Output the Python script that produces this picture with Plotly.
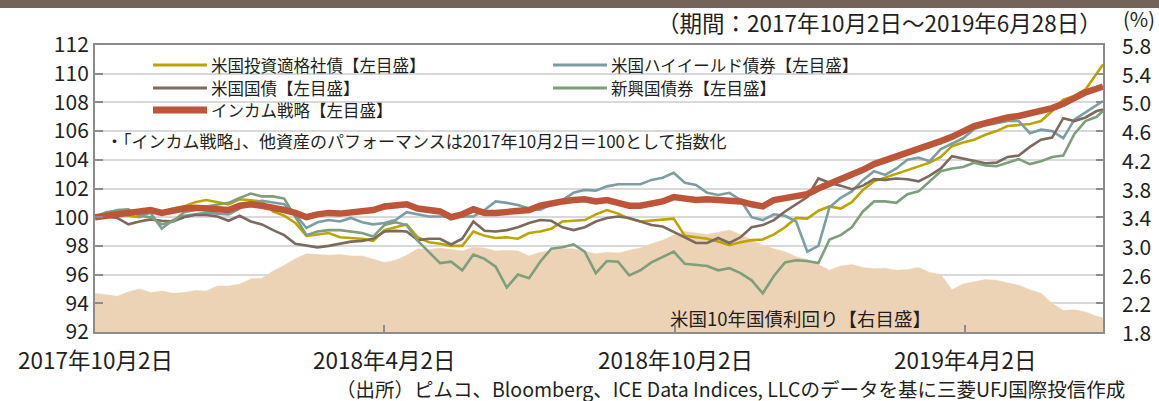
import plotly.graph_objects as go
import pandas as pd

# weekly sample dates (Mondays) plus the final day of the period
dates = list(pd.date_range('2017-10-02', periods=91, freq='7D').strftime('%Y-%m-%d')) + ['2019-06-28']

ig_corp = [100.0,100.2,100.3,100.1,100.0,100.35,100.35,100.6,100.75,101.05,101.2,101.05,100.9,101.25,101.15,101.1,
           100.4,100.1,99.6,98.7,98.8,98.9,98.6,98.55,98.5,98.35,99.1,99.3,99.5,98.6,98.25,98.15,
           98.0,98.0,99.0,98.7,98.55,98.6,98.5,98.9,99.0,99.2,99.7,99.75,99.8,100.2,100.5,100.25,99.9,99.7,
           99.75,99.8,99.9,98.7,98.6,98.5,98.3,98.05,98.25,98.4,98.45,98.8,
           99.3,99.95,99.9,100.45,100.75,100.6,101.05,101.9,102.5,102.75,103.05,103.3,103.5,103.8,104.2,104.95,
           105.2,105.4,105.75,106.0,106.35,106.4,106.5,106.7,107.4,108.2,108.45,108.9,110.0,110.65]
high_yield = [100.0,100.35,100.45,100.4,100.2,100.3,99.2,99.8,100.1,100.2,100.3,100.25,100.2,100.6,101.0,101.15,
              101.05,100.9,100.2,99.25,99.65,99.8,99.7,99.95,99.65,99.5,99.6,99.8,100.35,100.2,100.05,100.05,
              100.05,100.1,100.05,100.5,101.1,101.0,100.85,100.6,100.5,100.9,101.2,101.7,101.9,101.85,102.15,102.3,
              102.3,102.3,102.6,102.75,103.1,102.4,102.25,101.7,101.55,101.7,101.2,100.0,99.8,100.2,
              100.1,99.7,97.6,98.0,100.7,101.35,101.8,102.6,103.2,102.95,103.4,104.0,104.15,103.9,104.75,105.15,
              105.5,106.15,106.4,106.55,106.7,106.7,105.85,106.1,106.0,105.5,106.8,107.3,107.8,108.1]
treasury = [100.0,100.05,99.95,99.5,99.7,99.85,99.75,99.7,100.0,100.15,100.15,100.05,99.75,100.1,99.7,99.5,
            99.1,98.75,98.15,98.0,97.9,98.0,98.15,98.3,98.35,98.5,99.0,99.05,99.0,98.4,98.5,98.5,
            98.1,98.5,99.7,99.05,99.0,99.1,99.3,99.6,99.8,99.75,99.3,99.1,99.3,99.7,99.95,100.05,
            99.95,99.7,99.45,99.35,99.0,98.6,98.2,98.2,98.55,98.2,98.6,99.3,99.45,99.8,
            100.4,100.9,101.4,102.7,102.4,102.2,101.95,102.2,102.65,102.6,102.7,102.65,102.5,102.9,103.4,104.25,
            104.1,103.9,103.75,103.8,104.2,104.3,104.9,105.4,105.55,106.9,106.7,106.95,107.4,107.5]
em_bond = [100.0,100.3,100.5,100.55,100.1,100.0,99.5,99.7,100.35,100.5,100.75,100.9,101.0,101.35,101.65,101.45,
           101.45,101.3,100.0,98.75,99.0,99.1,99.1,99.0,98.9,98.65,99.45,99.65,99.45,98.35,97.6,96.8,
           96.9,96.3,97.4,97.1,96.55,95.1,96.0,95.75,96.9,97.8,97.9,98.1,97.6,96.1,96.95,96.9,
           95.95,96.3,96.85,97.25,97.6,96.75,96.7,96.6,96.3,96.45,96.1,95.6,94.7,95.9,
           96.85,97.0,96.95,96.8,98.45,98.75,99.3,100.4,101.1,101.1,101.0,101.6,101.8,102.5,103.2,103.4,
           103.5,103.8,103.6,103.55,103.8,104.05,103.7,103.9,104.2,104.3,105.8,106.7,107.0,107.4]
income = [100.0,100.1,100.1,100.3,100.4,100.5,100.3,100.5,100.6,100.65,100.6,100.6,100.5,100.8,100.9,100.8,
          100.7,100.5,100.3,100.0,100.2,100.3,100.25,100.35,100.35,100.5,100.75,100.8,100.9,100.6,100.5,100.4,
          100.0,100.2,100.55,100.3,100.3,100.35,100.45,100.5,100.8,101.0,101.1,101.2,101.25,101.1,101.2,101.0,
          100.8,100.8,100.95,101.1,101.4,101.3,101.2,101.25,101.2,101.2,101.1,100.9,100.75,101.2,
          101.35,101.45,101.6,102.0,102.3,102.6,103.0,103.3,103.7,103.95,104.3,104.55,104.75,104.95,105.3,105.6,
          105.95,106.35,106.55,106.8,106.95,107.05,107.2,107.35,107.6,107.9,108.3,108.7,108.95,109.1]
ust10y = [2.34,2.32,2.30,2.36,2.40,2.35,2.37,2.34,2.35,2.38,2.37,2.44,2.44,2.47,2.54,2.55,
          2.65,2.73,2.82,2.89,2.88,2.87,2.88,2.86,2.86,2.82,2.77,2.80,2.87,2.96,2.95,2.97,
          2.95,2.93,2.98,2.97,2.93,2.94,2.93,2.86,2.91,2.93,2.96,2.96,2.93,2.89,2.91,2.90,
          2.94,2.97,3.03,3.08,3.15,3.20,3.18,3.16,3.19,3.22,3.16,3.08,3.01,2.96,
          2.92,2.85,2.81,2.74,2.66,2.72,2.74,2.70,2.68,2.69,2.66,2.67,2.70,2.63,2.60,2.39,
          2.47,2.50,2.53,2.52,2.48,2.45,2.39,2.34,2.20,2.10,2.11,2.08,2.02,2.00]

series_names = ['米国投資適格社債【左目盛】', '米国ハイイールド債券【左目盛】', '米国国債【左目盛】',
                '新興国債券【左目盛】', 'インカム戦略【左目盛】']
yield_label = '米国10年国債利回り【右目盛】'
x_tick_vals = ['2017-10-02', '2018-04-02', '2018-10-02', '2019-04-02']
x_tick_text = ['2017年10月2日', '2018年4月2日', '2018年10月2日', '2019年4月2日']
left_ticks = [92, 94, 96, 98, 100, 102, 104, 106, 108, 110, 112]
right_ticks = [1.8, 2.2, 2.6, 3.0, 3.4, 3.8, 4.2, 4.6, 5.0, 5.4, 5.8]

colors = ['#BDA400', '#7C9EA2', '#7C6A5F', '#7D9F7B', '#BD5539']
widths = [2.6, 2.6, 2.6, 2.6, 6.5]
yield_color = '#EDD3B6'

FONT = 'Noto Sans CJK JP, Noto Sans, sans-serif'
TXT = '#231F20'
AX = '#8C8C8C'

W, H = 1159, 401
L, R, T, B = 95, 1103, 45, 332


def px(x):
    return (x - L) / (R - L)


def py(y):
    return (B - y) / (B - T)


fig = go.Figure()

fig.add_trace(go.Scatter(x=dates, y=ust10y, yaxis='y', mode='lines', fill='tozeroy',
                         fillcolor=yield_color, line=dict(color=yield_color, width=0.5),
                         name=yield_label, showlegend=False, hoverinfo='skip'))

for name, vals, c, w in zip(series_names, [ig_corp, high_yield, treasury, em_bond, income], colors, widths):
    fig.add_trace(go.Scatter(x=dates, y=vals, yaxis='y2', mode='lines', name=name,
                             line=dict(color=c, width=w), showlegend=False))

shapes = []
# white legend box hiding grid lines
shapes.append(dict(type='rect', xref='paper', yref='paper', x0=0, x1=px(898), y0=py(150), y1=1,
                   fillcolor='white', line=dict(width=0), layer='between'))
# top dark band
shapes.append(dict(type='rect', xref='paper', yref='paper', x0=px(0), x1=px(W), y0=py(8), y1=py(0),
                   fillcolor='#736359', line=dict(width=0), layer='above'))

annotations = []
legend_pos = [(153, 65), (553, 65), (153, 88), (553, 88), (153, 110)]
for (lx, ly), name, c, w in zip(legend_pos, series_names, colors, widths):
    lw = 3 if w < 5 else 7
    shapes.append(dict(type='line', xref='paper', yref='paper', x0=px(lx), x1=px(lx + 54),
                       y0=py(ly), y1=py(ly), line=dict(color=c, width=lw), layer='above'))
    annotations.append(dict(text=name, xref='paper', yref='paper', x=px(lx + 56), y=py(ly),
                            xanchor='left', yanchor='middle', showarrow=False,
                            font=dict(family=FONT, size=16.5, color=TXT)))

# x-axis tick labels (placed at their dates through the x scale)
for v, t in zip(x_tick_vals, x_tick_text):
    annotations.append(dict(text=t, xref='x', yref='paper', x=v, y=py(358.5), xanchor='center',
                            yanchor='middle', showarrow=False, font=dict(family=FONT, size=22.5, color=TXT)))
# right-axis tick labels (placed at their values through the right y scale)
for v in right_ticks:
    annotations.append(dict(text='%.1f' % v, xref='paper', yref='y', x=px(1120), y=v, xanchor='left',
                            yanchor='middle', showarrow=False, font=dict(family=FONT, size=21, color=TXT)))

annotations.append(dict(text='・「インカム戦略」、他資産のパフォーマンスは2017年10月2日＝100として指数化',
                        xref='paper', yref='paper', x=px(104), y=py(140), xanchor='left', yanchor='middle',
                        showarrow=False, font=dict(family=FONT, size=17, color=TXT)))
annotations.append(dict(text='（期間：2017年10月2日～2019年6月28日）', xref='paper', yref='paper',
                        x=px(1104), y=py(22), xanchor='right', yanchor='middle', showarrow=False,
                        font=dict(family=FONT, size=22.5, color=TXT)))
annotations.append(dict(text='(%)', xref='paper', yref='paper', x=px(1157), y=py(18), xanchor='right',
                        yanchor='middle', showarrow=False, font=dict(family=FONT, size=20, color=TXT)))
annotations.append(dict(text=yield_label, xref='paper', yref='paper', x=px(800), y=py(318),
                        xanchor='center', yanchor='middle', showarrow=False,
                        font=dict(family=FONT, size=18.5, color=TXT)))
annotations.append(dict(text='（出所）ピムコ、Bloomberg、ICE Data Indices, LLCのデータを基に三菱UFJ国際投信作成',
                        xref='paper', yref='paper', x=px(334), y=py(388), xanchor='left', yanchor='middle',
                        showarrow=False, font=dict(family=FONT, size=19.5, color=TXT)))

fig.update_layout(
    width=W, height=H,
    margin=dict(l=L, r=W - R, t=T, b=H - B, pad=0, autoexpand=False),
    paper_bgcolor='white', plot_bgcolor='white',
    showlegend=False,
    font=dict(family=FONT, color=TXT),
    xaxis=dict(type='date', range=['2017-10-02', '2019-06-28'], tickmode='array', automargin=False,
               tickvals=x_tick_vals, showticklabels=False, ticks='inside', ticklen=7, tickwidth=1.5,
               tickcolor=AX, showline=True, linecolor=AX, linewidth=2, mirror=True, showgrid=False,
               zeroline=False),
    yaxis=dict(range=[1.8, 5.8], tickmode='array', tickvals=right_ticks, automargin=False,
               showticklabels=False, side='right', ticks='inside', ticklen=7,
               tickwidth=1.5, tickcolor=AX, showline=True, linecolor=AX, linewidth=2, showgrid=True,
               gridcolor='#D9D9D9', gridwidth=2, zeroline=False),
    yaxis2=dict(range=[92, 112], tickmode='array', tickvals=left_ticks, overlaying='y', side='left',
                ticks='inside', ticklen=8, tickwidth=1.5, tickcolor=AX, showline=True, linecolor=AX,
                linewidth=2, mirror=True, showgrid=False, zeroline=False, automargin=False,
                tickfont=dict(family=FONT, size=21, color=TXT)),
    shapes=shapes,
    annotations=annotations,
)

fig.write_html('out.html', config={'displayModeBar': False},
               post_script="document.body.style.margin='0px';document.body.style.overflow='hidden';")
